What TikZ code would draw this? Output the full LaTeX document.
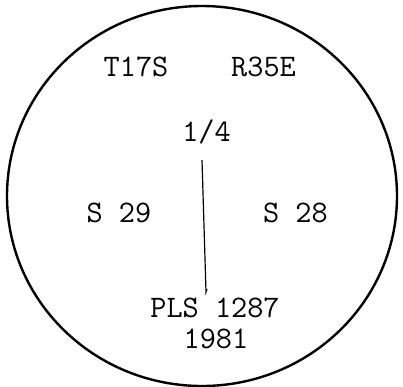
\documentclass[tikz,border=0pt]{standalone}
\begin{document}
\begin{tikzpicture}[x=0.75pt,y=-0.75pt,
  lbl/.style={anchor=base,inner sep=0pt,font=\ttfamily\fontsize{23.5}{28}\selectfont}]
\useasboundingbox (0,0) rectangle (403,386);
\draw[line width=1.8pt] (202,196) ellipse [x radius=195, y radius=190];
\node[lbl] (t) at (136,76) {T17S};
\node[lbl] (r) at (263.5,76) {R35E};
\node[lbl] (q) at (206.5,141) {1/4};
\node[lbl] (s29) at (119,222) {S 29};
\node[lbl] (s28) at (295.5,222) {S 28};
\node[lbl] (pls) at (215,317) {PLS 1287};
\node[lbl] (yr) at (216,348) {1981};
\coordinate (ltop) at (202,160);
\coordinate (lbot) at (206,292);
\coordinate (hook) at (207,289);
\draw[line width=0.9pt] (ltop) -- (lbot) -- (hook);
\end{tikzpicture}
\end{document}
